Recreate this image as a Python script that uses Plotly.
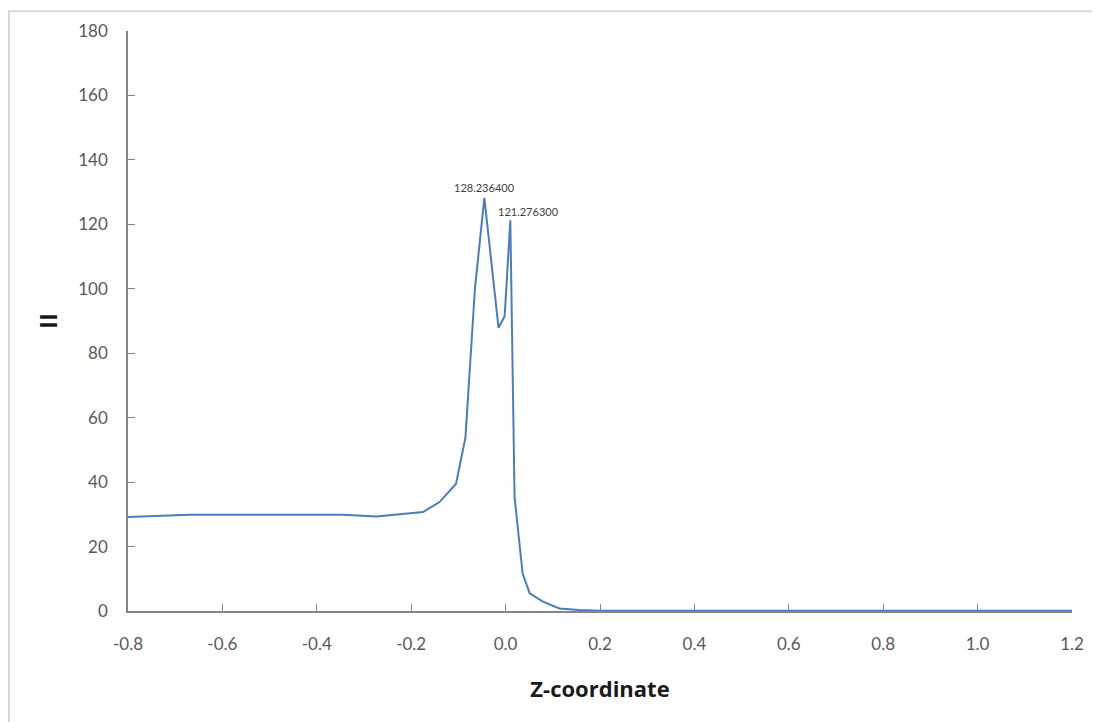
import plotly.graph_objects as go

z_coord = [-0.80, -0.67, -0.50, -0.345, -0.274, -0.204, -0.175, -0.14, -0.105, -0.085,
           -0.065, -0.045, -0.015, -0.002, 0.010, 0.019, 0.036, 0.051, 0.079, 0.114,
           0.156, 0.20, 0.25, 0.40, 0.60, 0.80, 1.00, 1.20]
ii_values = [29.2, 29.9, 29.9, 29.9, 29.3, 30.4, 30.7, 33.8, 39.5, 53.9,
             100.0, 128.2364, 87.9, 91.5, 121.2763, 35.4, 11.7, 5.5, 2.9, 0.8,
             0.3, 0.1, 0.05, 0.05, 0.05, 0.05, 0.05, 0.05]

peak_x = [-0.045, 0.010]
peak_y = [128.2364, 121.2763]
peak_labels = ["128.236400", "121.276300"]

x_tickvals = [-0.8, -0.6, -0.4, -0.2, 0.0, 0.2, 0.4, 0.6, 0.8, 1.0, 1.2]
x_ticktext = ["-0.8", "-0.6", "-0.4", "-0.2", "0.0", "0.2", "0.4", "0.6", "0.8", "1.0", "1.2"]

tick_font = dict(family="Lato, 'Liberation Sans', sans-serif", size=17, color="#595959")
axis_color = "#868686"

fig = go.Figure()
fig.add_trace(go.Scatter(
    x=z_coord, y=ii_values, mode="lines",
    line=dict(color="#4a7ebb", width=2),
    showlegend=False, hoverinfo="x+y",
))

# Peak value labels
fig.add_annotation(x=peak_x[0], y=peak_y[0], text=peak_labels[0], showarrow=False,
                   xanchor="center", yanchor="bottom", yshift=2,
                   font=dict(family="Lato, 'Liberation Sans', sans-serif", size=11, color="#404040"))
fig.add_annotation(x=peak_x[1], y=peak_y[1], text=peak_labels[1], showarrow=False,
                   xanchor="left", yanchor="bottom", xshift=-14, yshift=0,
                   font=dict(family="Lato, 'Liberation Sans', sans-serif", size=11, color="#404040"))

# Outer chart-area border (top and left visible)
fig.add_shape(type="rect", xref="paper", yref="paper",
              x0=-0.126, x1=1.06, y0=-0.25, y1=1.034,
              line=dict(color="#d9d9d9", width=2), fillcolor="rgba(0,0,0,0)", layer="below")

fig.update_layout(
    width=1092, height=714,
    margin=dict(l=120, r=28, t=21, b=111),
    paper_bgcolor="white", plot_bgcolor="white",
    xaxis=dict(
        range=[-0.8, 1.2], tickvals=x_tickvals, ticktext=x_ticktext,
        showgrid=False, zeroline=False,
        showline=True, linecolor=axis_color, linewidth=1.5,
        ticks="inside", ticklen=7, tickcolor=axis_color,
        tickfont=tick_font, ticklabelstandoff=17,
        title=dict(text="<b>Z-coordinate</b>", standoff=28,
                   font=dict(family="'Open Sans', 'Liberation Sans', sans-serif", size=22, color="#1a1a1a")),
    ),
    yaxis=dict(
        range=[0, 180], dtick=20,
        showgrid=False, zeroline=False,
        showline=True, linecolor=axis_color, linewidth=1.5,
        ticks="inside", ticklen=7, tickcolor=axis_color,
        tickfont=tick_font, ticklabelstandoff=15,
        title=dict(text="<b>II</b>", standoff=14,
                   font=dict(family="'Open Sans', 'Liberation Sans', sans-serif", size=24, color="#1a1a1a")),
    ),
)

fig.write_html("out.html")
